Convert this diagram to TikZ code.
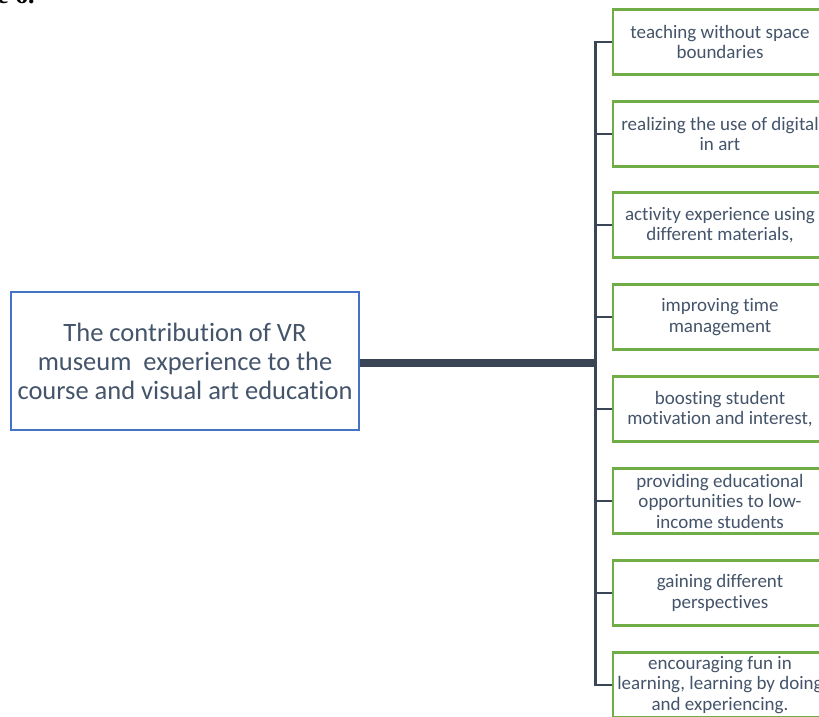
\documentclass[tikz,border=0pt]{standalone}
\usepackage{fontspec}
\setmainfont[Ligatures=CommonOff]{Carlito}
\newfontfamily\capfont{Liberation Serif}
\definecolor{boxblue}{HTML}{4472C4}
\definecolor{leafgreen}{HTML}{70AD47}
\definecolor{textslate}{HTML}{44546A}
\definecolor{trunkslate}{HTML}{3A4556}
\tikzset{
  mainbox/.style={draw=boxblue, line width=2pt, fill=white, minimum width=348pt,
    minimum height=138pt, inner sep=0pt, align=center, text=textslate,
    font=\fontsize{26.5}{29}\selectfont},
  leafbox/.style={draw=leafgreen, line width=2.5pt, fill=white, minimum width=214pt,
    minimum height=65pt, inner sep=0pt, align=center, text=textslate,
    font=\fontsize{19}{20.5}\selectfont},
  trunk/.style={draw=trunkslate, line width=8pt},
  branch/.style={draw=trunkslate, line width=2.5pt},
}
\begin{document}
\begin{tikzpicture}[x=1pt,y=-1pt]
\useasboundingbox (0,0) rectangle (819,716);
\clip (0,0) rectangle (819,716);

% caption fragment along the upper edge
\node[anchor=base west, inner sep=0pt, font=\capfont\bfseries\fontsize{26}{26}\selectfont] (cap) at (-3,3) {e 6.};

% central topic
\node[mainbox] (main) at (185,361) {The contribution of VR\\museum\ \ experience to the\\course and visual art education};

% outcomes
\node[leafbox] (l1) at (720,42)  {teaching without space\\boundaries};
\node[leafbox] (l2) at (720,134) {realizing the use of digital\\in art};
\node[leafbox] (l3) at (720,225) {activity experience using\\different materials,};
\node[leafbox] (l4) at (720,317) {improving time\\management};
\node[leafbox] (l5) at (720,409) {boosting student\\motivation and interest,};
\node[leafbox] (l6) at (720,501) {providing educational\\opportunities to low-\\income students};
\node[leafbox] (l7) at (720,593) {gaining different\\perspectives};
\node[leafbox] (l8) at (720,685) {encouraging fun in\\learning, learning by doing\\and experiencing.};

% connectors
\coordinate (hub) at (595.5,363);
\draw[trunk] (main.east |- hub) -- (hub);
\foreach \n in {l1,l2,l3,l4,l5,l6,l7,l8}
  \draw[branch] (hub) |- (\n.west);
\end{tikzpicture}
\end{document}
